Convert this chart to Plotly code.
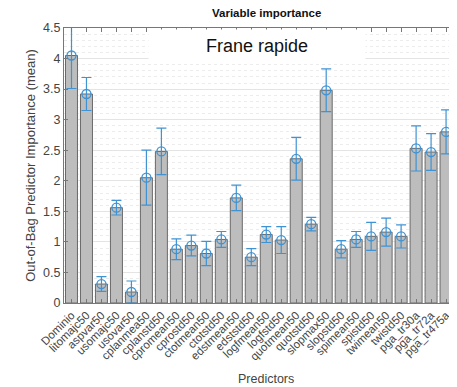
import plotly.graph_objects as go

predictors = ["Dominio", "litomajc50", "aspvar50", "usomajc50", "usovar50", "cplanmea50",
              "cplanstd50", "cpromean50", "cprostd50", "ctotmean50", "ctotstd50", "edstmean50",
              "edststd50", "logfmean50", "logfstd50", "quotmean50", "quotstd50", "slopmax50",
              "slopstd50", "spimean50", "spistd50", "twimean50", "twistd50", "pga_tr30a",
              "pga_tr72a", "pga_tr475a", "rain"]
importance = [4.05, 3.42, 0.31, 1.56, 0.18, 2.05, 2.48, 0.88, 0.94, 0.81, 1.04, 1.72,
              0.75, 1.12, 1.03, 2.36, 1.29, 3.48, 0.88, 1.04, 1.09, 1.16, 1.09, 2.53,
              2.47, 2.80, 3.34]
err = [0.54, 0.27, 0.12, 0.12, 0.18, 0.45, 0.38, 0.17, 0.17, 0.20, 0.13, 0.21,
       0.14, 0.13, 0.22, 0.35, 0.11, 0.35, 0.14, 0.13, 0.23, 0.23, 0.19, 0.37,
       0.30, 0.36, 0.30]
y_ticks = [0, 0.5, 1, 1.5, 2, 2.5, 3, 3.5, 4, 4.5]
y_tick_labels = ["0", "0.5", "1", "1.5", "2", "2.5", "3", "3.5", "4", "4.5"]

FONT = "Liberation Sans, Arial, sans-serif"
BLUE = "#3f93d2"

fig = go.Figure()
fig.add_trace(go.Bar(
    x=predictors, y=importance,
    marker=dict(color="#bdbdbd", line=dict(color="#6a6a6a", width=1)),
    hoverinfo="skip", showlegend=False,
))
fig.add_trace(go.Scatter(
    x=predictors, y=importance, mode="markers",
    marker=dict(symbol="circle-open", size=9, color=BLUE, line=dict(width=1.3, color=BLUE)),
    error_y=dict(type="data", array=err, color=BLUE, thickness=1.2, width=5),
    showlegend=False,
))

# the page body adds an 8px offset, so the figure is 8px smaller on each axis
fig.update_layout(
    width=449, height=379,
    margin=dict(l=56, r=0, t=20, b=84),
    paper_bgcolor="white", plot_bgcolor="white",
    bargap=0.2,
    font=dict(family=FONT, color="#333333", size=12),
    xaxis=dict(
        type="category", range=[-0.5, 25.73], automargin=False,
        tickmode="array", tickvals=predictors, ticktext=predictors,
        tickangle=-45, tickfont=dict(size=11.5, color="#444444"),
        ticks="inside", ticklen=4, tickcolor="#777777",
        showline=True, linecolor="#777777", linewidth=1, mirror="ticks",
        showgrid=False, zeroline=False,
    ),
    yaxis=dict(
        range=[0, 4.5], tickvals=y_ticks, ticktext=y_tick_labels, automargin=False,
        tickfont=dict(size=12.5, color="#444444"),
        ticks="inside", ticklen=4, tickcolor="#777777",
        showline=True, linecolor="#777777", linewidth=1, mirror=False,
        showgrid=True, gridcolor="#e4e4e4", gridwidth=1, zeroline=False,
        minor=dict(dtick=0.1, showgrid=True, gridcolor="#ececec", griddash="dot", ticks=""),
        title=dict(text="Out-of-Bag Predictor Importance (mean)", font=dict(size=13, color="#444444"), standoff=4),
    ),
    annotations=[
        dict(text="<b>Variable importance</b>", xref="x", yref="paper", x=13, y=1.0,
             xanchor="center", yanchor="bottom", yshift=7, showarrow=False,
             font=dict(size=11.5, color="#111111")),
        dict(text="Predictors", xref="x", yref="paper", x=13, y=0, xanchor="center",
             yanchor="top", yshift=-67, showarrow=False, font=dict(size=12.5, color="#444444")),
        dict(text="Frane rapide", xref="x", yref="paper", x=12.4, y=1.0, xanchor="center",
             yanchor="top", showarrow=False, width=214, height=30, bgcolor="white",
             valign="middle", yshift=-1, font=dict(size=18, color="#111111")),
    ],
)

fig.write_html("out.html")
